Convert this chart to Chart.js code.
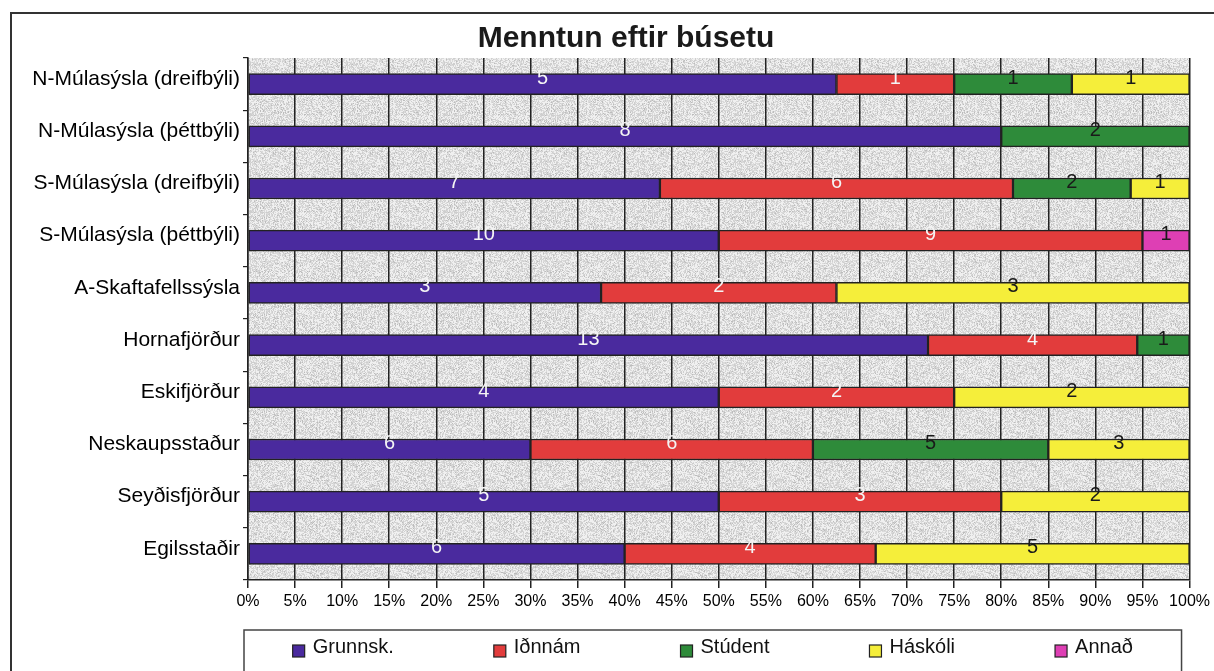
<!DOCTYPE html>
<html>
<head>
<meta charset="utf-8">
<title>Menntun eftir búsetu</title>
<script src="https://cdn.jsdelivr.net/npm/chart.js@4.4.1/dist/chart.umd.min.js"></script>
<style>
  html, body { margin: 0; padding: 0; background: #fff; overflow: hidden; }
  #wrap { position: relative; width: 1214px; height: 671px; }
</style>
</head>
<body>
<div id="wrap"><canvas id="eduChart" width="1214" height="671"></canvas></div>
<script>
// Categories, top to bottom
const categories = [
    'N-Múlasýsla (dreifbýli)',
    'N-Múlasýsla (þéttbýli)',
    'S-Múlasýsla (dreifbýli)',
    'S-Múlasýsla (þéttbýli)',
    'A-Skaftafellssýsla',
    'Hornafjörður',
    'Eskifjörður',
    'Neskaupsstaður',
    'Seyðisfjörður',
    'Egilsstaðir'
];

// Counts per education level (shown as labels, stacked to 100%)
const grunnsk = [5, 8, 7, 10, 3, 13, 4, 6, 5, 6];
const idnnam  = [1, 0, 6, 9, 2, 4, 2, 6, 3, 4];
const student = [1, 2, 2, 0, 0, 1, 0, 5, 0, 0];
const haskoli = [1, 0, 1, 0, 3, 0, 2, 3, 2, 5];
const annad   = [0, 0, 0, 1, 0, 0, 0, 0, 0, 0];

const seriesNames = ['Grunnsk.', 'Iðnnám', 'Stúdent', 'Háskóli', 'Annað'];
const seriesCounts = [grunnsk, idnnam, student, haskoli, annad];
const seriesColors = ['#4a2a9e', '#e23c3c', '#2e8b3a', '#f5ee3a', '#de3fb4'];
const labelColors = ['#f4f4f4', '#f4f4f4', '#1a1a1a', '#1a1a1a', '#1a1a1a'];

// totals per category, used to turn counts into percentages
const totals = categories.map((_, i) => seriesCounts.reduce((s, arr) => s + arr[i], 0));

/**
 * Builds a light grey speckled tile similar to the scanned plot background.
 */
function makeSpecklePattern(ctx) {
    const size = 97;
    const tile = document.createElement('canvas');
    tile.width = tile.height = size;
    const g = tile.getContext('2d');
    const img = g.createImageData(size, size);
    for (let y = 0; y < size; y++) {
        for (let x = 0; x < size; x++) {
            let h = Math.imul(x, 374761393) + Math.imul(y, 668265263);
            h = Math.imul(h ^ (h >>> 13), 1274126177);
            h = (h ^ (h >>> 16)) & 255;
            let v = 218;
            if (h < 14) v = 188;
            else if (h < 70) v = 206;
            else if (h > 150) v = 240;
            const p = (y * size + x) * 4;
            img.data[p] = v; img.data[p + 1] = v; img.data[p + 2] = v; img.data[p + 3] = 255;
        }
    }
    g.putImageData(img, 0, 0);
    return ctx.createPattern(tile, 'repeat');
}

// plot background + outer frame
const backgroundPlugin = {
    id: 'plotBackground',
    beforeDraw(chart) {
        const {ctx, chartArea} = chart;
        ctx.save();
        ctx.fillStyle = makeSpecklePattern(ctx);
        ctx.fillRect(chartArea.left, chartArea.top, chartArea.right - chartArea.left, chartArea.bottom - chartArea.top);
        // frame round the whole chart (right and bottom sides fall outside the picture)
        ctx.strokeStyle = '#333';
        ctx.lineWidth = 2;
        ctx.beginPath();
        ctx.moveTo(11, chart.height);
        ctx.lineTo(11, 13);
        ctx.lineTo(chart.width, 13);
        ctx.stroke();
        ctx.restore();
    }
};

// count labels in the middle of each segment
const valueLabelPlugin = {
    id: 'valueLabels',
    afterDatasetsDraw(chart) {
        const {ctx} = chart;
        ctx.save();
        ctx.font = '20px "Liberation Sans", Arial, sans-serif';
        ctx.textAlign = 'center';
        ctx.textBaseline = 'middle';
        chart.data.datasets.forEach((ds, di) => {
            const meta = chart.getDatasetMeta(di);
            meta.data.forEach((bar, i) => {
                const count = ds.counts[i];
                if (!count) return;
                ctx.fillStyle = ds.labelColor;
                ctx.fillText(String(count), (bar.x + bar.base) / 2, bar.y - 6);
            });
        });
        ctx.restore();
    }
};

// title and legend box, drawn last
const titleLegendPlugin = {
    id: 'titleLegend',
    afterDraw(chart) {
        const {ctx, chartArea} = chart;
        ctx.save();
        ctx.fillStyle = '#1a1a1a';
        ctx.font = 'bold 30px "Liberation Sans", Arial, sans-serif';
        ctx.textAlign = 'center';
        ctx.textBaseline = 'alphabetic';
        ctx.fillText('Menntun eftir búsetu', 626, 47);

        // legend frame
        const boxLeft = chartArea.left - 4;
        const boxRight = chartArea.right - 8;
        const boxTop = 630;
        ctx.strokeStyle = '#444';
        ctx.lineWidth = 1.5;
        ctx.beginPath();
        ctx.moveTo(boxLeft, chart.height + 2);
        ctx.lineTo(boxLeft, boxTop);
        ctx.lineTo(boxRight, boxTop);
        ctx.lineTo(boxRight, chart.height + 2);
        ctx.stroke();

        // legend items
        ctx.font = '20px "Liberation Sans", Arial, sans-serif';
        ctx.textAlign = 'left';
        const swatch = 12, gap = 8, spacing = 100;
        const widths = chart.data.datasets.map(ds => swatch + gap + ctx.measureText(ds.label).width);
        const total = widths.reduce((a, b) => a + b, 0) + spacing * (widths.length - 1);
        let x = (boxLeft + boxRight) / 2 - total / 2;
        const baseline = 655;
        chart.data.datasets.forEach((ds, i) => {
            ctx.fillStyle = ds.backgroundColor;
            ctx.fillRect(x, baseline - 10, swatch, swatch);
            ctx.strokeStyle = '#222';
            ctx.lineWidth = 1.2;
            ctx.strokeRect(x, baseline - 10, swatch, swatch);
            ctx.fillStyle = '#111';
            ctx.fillText(ds.label, x + swatch + gap, baseline - 2);
            x += widths[i] + spacing;
        });
        ctx.restore();
    }
};

function buildDatasets() {
    return seriesNames.map((name, s) => ({
        label: name,
        counts: seriesCounts[s],
        data: seriesCounts[s].map((v, i) => v / totals[i] * 100),
        backgroundColor: seriesColors[s],
        borderColor: '#222',
        borderWidth: 1.5,
        borderSkipped: false,
        barThickness: 21,
        labelColor: labelColors[s]
    }));
}

function createChart() {
    const ctx = document.getElementById('eduChart').getContext('2d');
    return new Chart(ctx, {
        type: 'bar',
        data: {
            labels: categories,
            datasets: buildDatasets()
        },
        options: {
            indexAxis: 'y',
            responsive: false,
            animation: false,
            layout: {
                padding: {top: 58, left: 10, right: 24, bottom: 51}
            },
            plugins: {
                legend: {display: false},
                title: {display: false},
                tooltip: {enabled: false}
            },
            scales: {
                x: {
                    stacked: true,
                    min: 0,
                    max: 100,
                    ticks: {
                        stepSize: 5,
                        callback: v => v + '%',
                        color: '#000',
                        font: {family: '"Liberation Sans", Arial, sans-serif', size: 16},
                        padding: 4
                    },
                    grid: {color: '#222', lineWidth: 1.5, tickLength: 8},
                    border: {display: true, color: '#222', width: 1.5},
                    afterFit: scale => { scale.height = 40; }
                },
                y: {
                    stacked: true,
                    ticks: {
                        color: '#000',
                        font: {family: '"Liberation Sans", Arial, sans-serif', size: 21},
                        padding: 3,
                        labelOffset: -5
                    },
                    grid: {drawOnChartArea: false, color: '#222', lineWidth: 1.2, tickLength: 5, offset: true},
                    border: {display: true, color: '#222', width: 1.5},
                    afterFit: scale => { scale.width = 238; }
                }
            }
        },
        plugins: [backgroundPlugin, valueLabelPlugin, titleLegendPlugin]
    });
}

window.eduChart = createChart();
</script>
</body>
</html>
